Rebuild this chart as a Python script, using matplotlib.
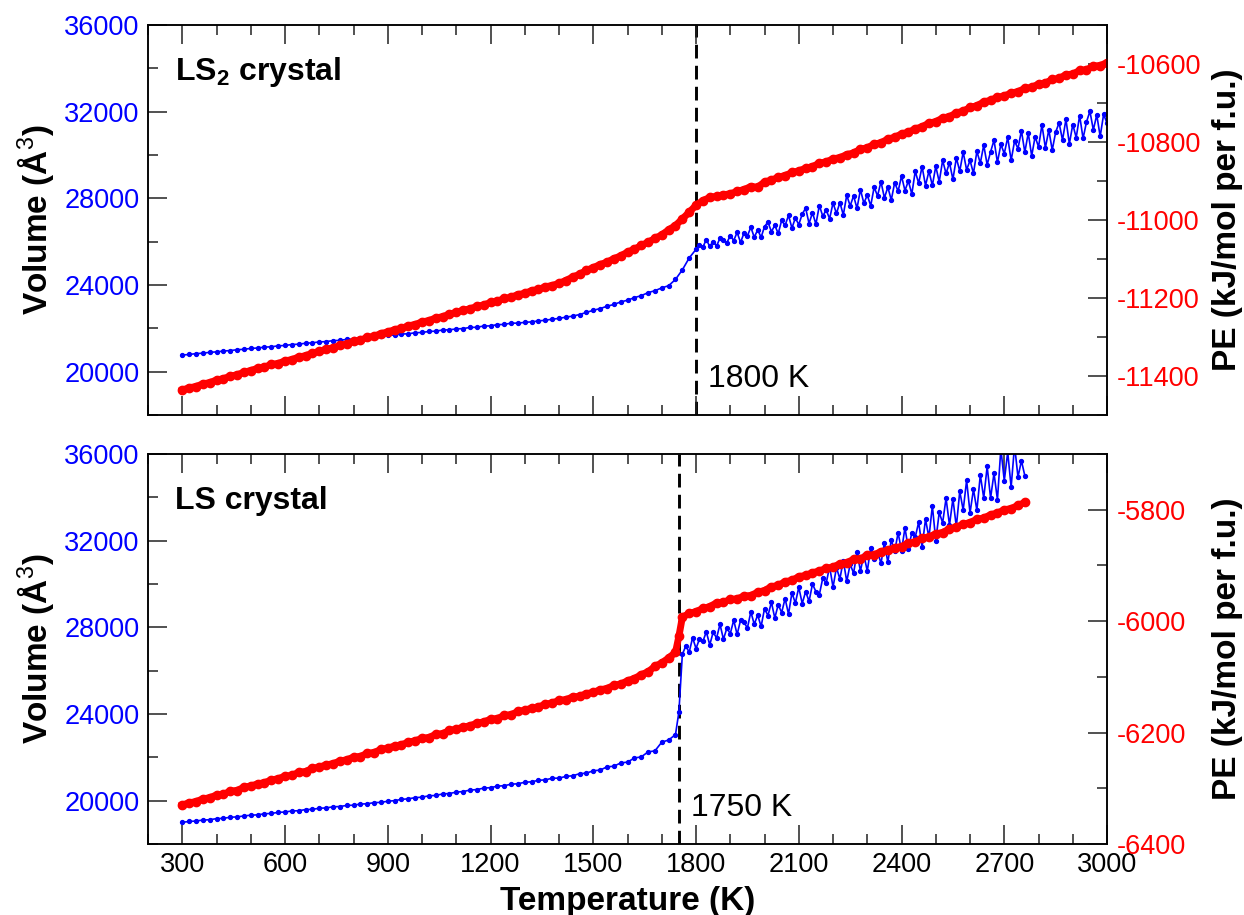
import numpy as np
import matplotlib
matplotlib.use('Agg')
import matplotlib.pyplot as plt
from matplotlib.ticker import MultipleLocator

plt.rcParams['font.family'] = 'Liberation Sans'
plt.rcParams['mathtext.fontset'] = 'custom'
plt.rcParams['mathtext.rm'] = 'Liberation Sans'
plt.rcParams['mathtext.bf'] = 'Liberation Sans:bold'
plt.rcParams['axes.unicode_minus'] = False

# ---- LS2 crystal heating run ----
# volume: 20 K steps in the solid, 10 K steps once it melts
temp_top_vol = np.r_[np.arange(300, 1800, 20), np.arange(1800, 3001, 10)]
vol_top = [
    20770, 20795, 20835, 20855, 20895, 20915, 20955, 20975, 21015, 21035,
    21075, 21095, 21135, 21150, 21195, 21210, 21255, 21270, 21315, 21335,
    21375, 21390, 21435, 21445, 21495, 21505, 21555, 21570, 21615, 21630,
    21680, 21690, 21740, 21750, 21800, 21810, 21860, 21870, 21925, 21935,
    21975, 21990, 22045, 22050, 22110, 22115, 22175, 22180, 22245, 22240,
    22280, 22300, 22345, 22375, 22425, 22460, 22520, 22565, 22640, 22735,
    22835, 22915, 23020, 23105, 23220, 23300, 23420, 23510, 23650, 23740,
    23870, 23970, 24260, 24700, 25250,
    # 1800 - 3000
    25650, 25870, 25750, 26100, 25780, 26010, 25800, 26170, 26070, 25955, 26280,
    26055, 26430, 25965, 26400, 26265, 26670, 26205, 26550, 26205, 26700,
    26910, 26465, 26755, 26380, 26985, 26750, 27215, 26630, 27095, 26790,
    27275, 27550, 26840, 27340, 26810, 27670, 27185, 27460, 27065, 27790,
    27305, 27810, 27235, 28145, 27655, 28115, 27540, 28405, 27780, 28150,
    27660, 28515, 28115, 28770, 28020, 28520, 27925, 28725, 28330, 29030,
    28360, 28805, 28200, 29250, 28700, 29470, 28595, 29255, 28600, 29480,
    28765, 29755, 29150, 29645, 28875, 29865, 29260, 30140, 29315, 29755,
    29155, 30170, 29625, 30460, 29555, 30150, 30685, 29660, 30495, 30070,
    30815, 29755, 30645, 30300, 31125, 30130, 31020, 29960, 30850, 30375,
    31395, 30335, 31160, 30230, 31055, 31490, 30690, 31645, 30520, 31410,
    30805, 31825, 30765, 31525, 32025, 31160, 31855, 30860, 31880, 31470]

temp_top_pe = np.arange(300, 3001, 20)
pe_top = [
    -11436, -11430, -11427, -11420, -11417, -11410, -11407, -11400, -11397, -11390,
    -11386, -11380, -11377, -11370, -11368, -11361, -11358, -11351, -11348, -11341,
    -11337, -11331, -11328, -11321, -11318, -11311, -11308, -11301, -11298, -11291,
    -11287, -11281, -11278, -11271, -11268, -11261, -11258, -11251, -11248, -11241,
    -11237, -11231, -11228, -11221, -11218, -11211, -11208, -11201, -11198, -11191,
    -11188, -11181, -11178, -11171, -11168, -11162, -11155, -11146, -11139, -11129,
    -11122, -11114, -11108, -11099, -11092, -11082, -11075, -11065, -11057, -11047,
    -11038, -11025, -11014, -10997, -10980, -10962, -10950, -10942, -10939, -10935,
    -10933, -10926, -10922, -10914, -10916, -10902, -10898, -10890, -10886, -10878,
    -10874, -10867, -10863, -10854, -10851, -10843, -10840, -10832, -10828, -10818,
    -10815, -10805, -10802, -10792, -10788, -10779, -10775, -10766, -10761, -10751,
    -10748, -10738, -10735, -10725, -10721, -10711, -10707, -10697, -10693, -10685,
    -10682, -10674, -10671, -10662, -10660, -10651, -10649, -10639, -10637, -10627,
    -10626, -10616, -10615, -10605, -10604, -10596]

# ---- LS crystal heating run ----
temp_bot_vol = np.r_[np.arange(300, 1741, 20), 1750, np.arange(1760, 2761, 10)]
vol_bot = [
    19000, 19040, 19060, 19105, 19120, 19170, 19185, 19235, 19250, 19295,
    19330, 19345, 19395, 19410, 19460, 19475, 19525, 19535, 19590, 19600,
    19650, 19665, 19715, 19730, 19780, 19790, 19845, 19855, 19910, 19920,
    19975, 20000, 20060, 20085, 20140, 20160, 20225, 20240, 20310, 20330,
    20395, 20420, 20490, 20510, 20580, 20600, 20670, 20690, 20760, 20780,
    20850, 20870, 20940, 20960, 21035, 21040, 21120, 21150, 21245, 21270,
    21380, 21410, 21560, 21590, 21740, 21780, 21970, 22020, 22250, 22300,
    22700, 22800, 23050,
    24100,
    # 1760 - 2760
    26750, 27135, 26855, 27520, 27020, 27465, 27350, 27795, 27190, 27775,
    27510, 28140, 27450, 27960, 27710, 28330, 27670, 28330, 28230, 27970,
    28715, 28145, 28565, 28040, 28865, 28540, 29160, 28430, 29050, 28680,
    29330, 28610, 29590, 29120, 29850, 29100, 29650, 29200, 30000, 29650,
    29510, 30270, 30040, 30800, 29855, 30760, 30235, 31085, 30120, 30915,
    30500, 31460, 30605, 31345, 30600, 31665, 31135, 31485, 30955, 31910,
    31000, 32035, 31510, 32365, 31540, 32595, 31610, 32365, 32160, 32855,
    31705, 32990, 32150, 33605, 32000, 33305, 32825, 33960, 32715, 33935,
    32640, 34285, 33410, 34785, 33280, 34375, 33400, 35035, 33970, 35425,
    33965, 35115, 33890, 36250, 34765, 36090, 34470, 36400, 34935, 35690,
    35000]

temp_bot_pe = np.r_[np.arange(300, 1741, 20), 1750, np.arange(1760, 2761, 20)]
pe_bot = [
    -6330, -6326, -6324, -6319, -6317, -6312, -6311, -6305, -6304, -6298,
    -6296, -6292, -6290, -6285, -6283, -6278, -6277, -6271, -6270, -6264,
    -6262, -6258, -6256, -6251, -6249, -6244, -6243, -6237, -6236, -6230,
    -6228, -6224, -6222, -6217, -6215, -6210, -6209, -6203, -6202, -6196,
    -6194, -6190, -6188, -6183, -6181, -6176, -6175, -6169, -6168, -6162,
    -6160, -6156, -6154, -6149, -6147, -6142, -6141, -6136, -6135, -6130,
    -6128, -6123, -6121, -6115, -6113, -6107, -6103, -6096, -6091, -6081,
    -6075, -6066, -6056,
    -6027,
    -5993, -5986, -5983, -5977, -5974, -5967, -5966, -5961, -5960, -5955,
    -5954, -5948, -5945, -5938, -5936, -5929, -5927, -5920, -5918, -5913,
    -5910, -5905, -5903, -5897, -5895, -5889, -5888, -5882, -5881, -5875,
    -5873, -5868, -5866, -5860, -5858, -5851, -5849, -5843, -5841, -5834,
    -5831, -5826, -5823, -5817, -5815, -5809, -5806, -5800, -5798, -5792,
    -5787]

fig = plt.figure(figsize=(12.44, 9.15), dpi=100)


def panel(rect, t_vol, vol, t_pe, pe, pe_lim, t_melt, title, show_x):
    ax = fig.add_axes(rect)
    ax.axvline(t_melt, color='black', lw=2.1, ls=(0, (4.7, 2.5)), zorder=1.5)
    ax.plot(t_vol, vol, color='blue', lw=1.2, marker='o', ms=2.8, zorder=2)
    ax.set_xlim(200, 3000)
    ax.set_ylim(18000, 36000)
    ax.xaxis.set_major_locator(MultipleLocator(300))
    ax.xaxis.set_minor_locator(MultipleLocator(100))
    ax.yaxis.set_major_locator(MultipleLocator(4000))
    ax.yaxis.set_minor_locator(MultipleLocator(2000))
    ax.tick_params(which='both', direction='in', top=True, right=False, width=1.1, color='#222222')
    ax.tick_params(which='major', length=14)
    ax.tick_params(which='minor', length=7)
    ax.tick_params(axis='y', labelsize=19.5, labelcolor='blue', pad=6)
    ax.tick_params(axis='x', labelsize=19.5, pad=5.5, labelbottom=show_x)
    ax.set_ylabel('Volume (Å$^{3}$)', fontsize=24, fontweight='bold')
    ax.yaxis.set_label_coords(-0.095, 0.5)
    ax.text(0.028, 0.859, title, transform=ax.transAxes, fontsize=23,
            fontweight='bold', va='baseline')
    ax.text(t_melt + 35, 19300, '%d K' % t_melt, fontsize=23, va='baseline')

    ax2 = ax.twinx()
    ax2.plot(t_pe, pe, color='red', lw=5, marker='o', ms=6, zorder=2)
    ax2.set_ylim(*pe_lim)
    ax2.yaxis.set_major_locator(MultipleLocator(200))
    ax2.yaxis.set_minor_locator(MultipleLocator(100))
    ax2.tick_params(which='both', direction='in', width=1.1, color='#222222')
    ax2.tick_params(which='major', length=14)
    ax2.tick_params(which='minor', length=7)
    ax2.tick_params(axis='y', labelsize=19.5, labelcolor='red', pad=7)
    ax2.set_ylabel('PE (kJ/mol per f.u.)', fontsize=24, fontweight='bold')
    ax2.yaxis.set_label_coords(1.1095, 0.5)
    for a in (ax, ax2):
        for s in a.spines.values():
            s.set_linewidth(1.1)
    return ax, ax2


panel([0.119, 0.5464, 0.7709, 0.4262], temp_top_vol, vol_top, temp_top_pe, pe_top,
      (-11500, -10500), 1800, r'LS$_\mathbf{2}$ crystal', False)
ax_b, _ = panel([0.119, 0.0776, 0.7709, 0.4262], temp_bot_vol, vol_bot, temp_bot_pe, pe_bot,
                (-6400, -5700), 1750, 'LS crystal', True)
ax_b.set_xlabel('Temperature (K)', fontsize=24, fontweight='bold')
ax_b.xaxis.set_label_coords(0.5, -0.108)

fig.savefig('out.png', dpi=100)
